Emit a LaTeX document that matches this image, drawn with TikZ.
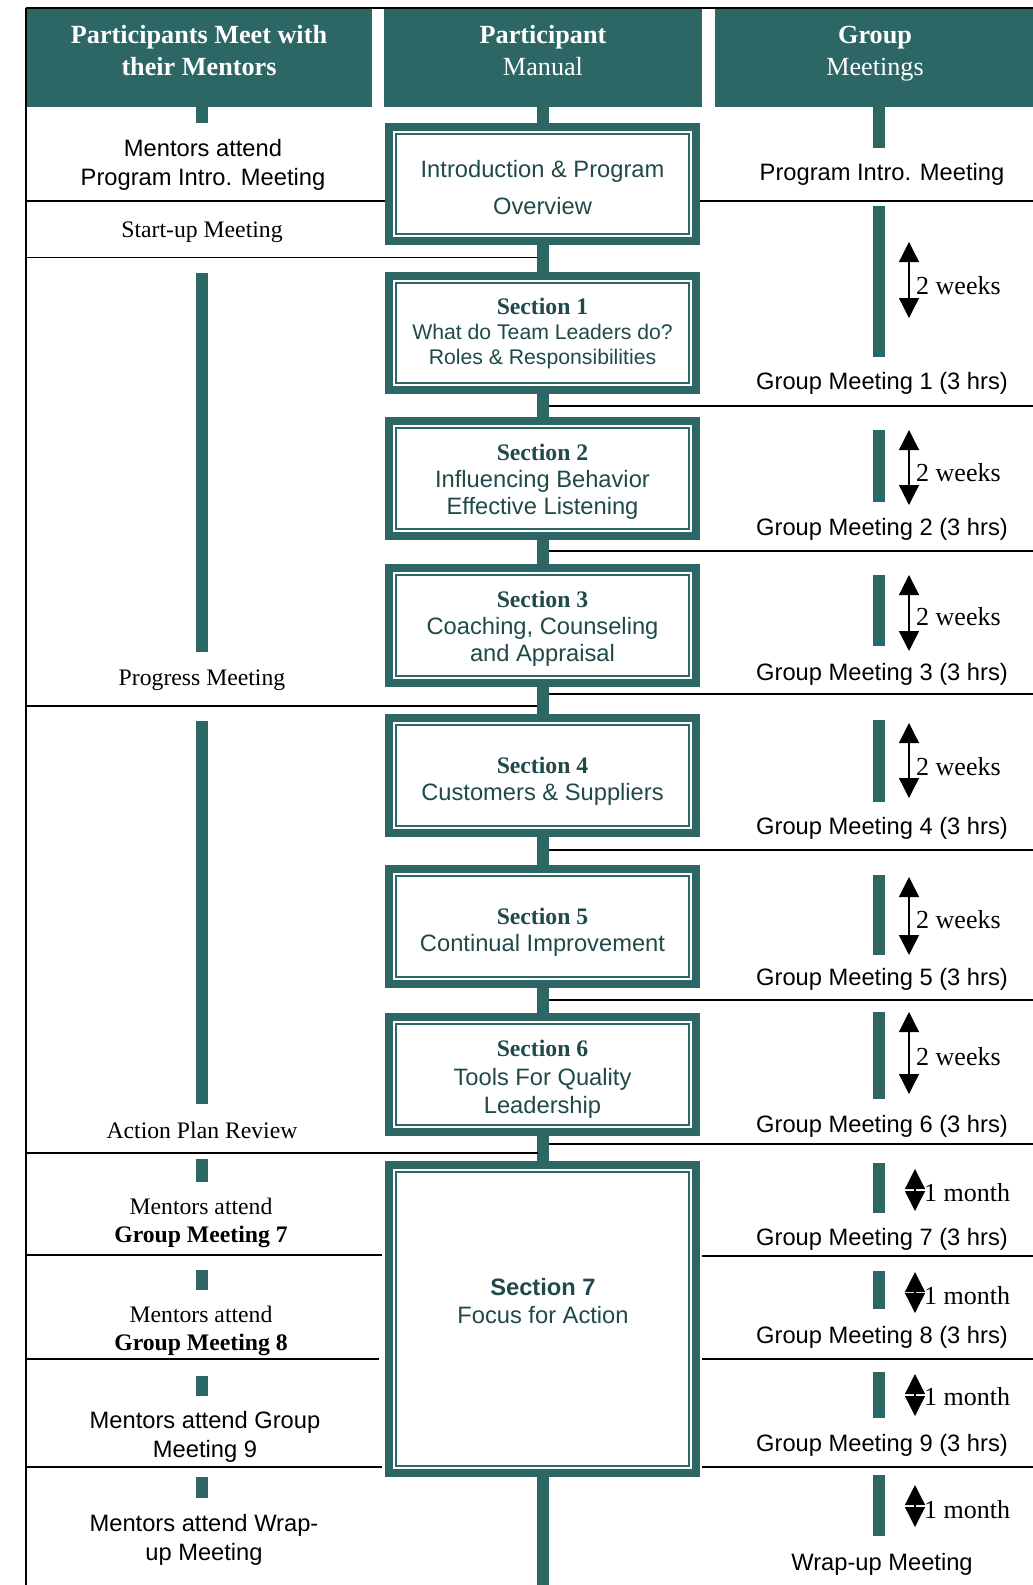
\documentclass[tikz,border=0pt]{standalone}
\usepackage{fontspec}
\setmainfont{Liberation Serif}
\setsansfont{Liberation Sans}
\usetikzlibrary{arrows.meta}
\definecolor{deep}{HTML}{2C6766}
\definecolor{ink}{HTML}{1F4A49}
\newcommand{\secttl}[1]{{\rmfamily\bfseries\fontsize{23.7}{26}\selectfont Section #1}}
\tikzset{
  hdr/.style={fill=deep, minimum height=98pt, inner sep=0pt, outer sep=0pt, anchor=north west},
  hdtxt/.style={text=white, align=center, font=\fontsize{26.2}{32}\selectfont},
  secbox/.style={draw=deep, line width=8pt, fill=white, minimum width=307pt, minimum height=115pt,
    inner sep=0pt, outer sep=0pt},
  boxtxt/.style={align=center, text=ink, font=\sffamily\fontsize{23.7}{27}\selectfont},
  inframe/.style={draw=deep, line width=1.6pt},
  spine/.style={draw=deep, line width=12pt},
  bar/.style={draw=deep, line width=11.5pt},
  rule/.style={draw=black, line width=1.6pt},
  gap/.style={draw=black, line width=1.3pt, {Triangle[width=20pt,length=20pt]}-{Triangle[width=20pt,length=20pt]}},
  lab/.style={font=\sffamily\fontsize{23.7}{29}\selectfont, align=center},
  labr/.style={font=\fontsize{23.7}{28}\selectfont, align=center},
  wk/.style={font=\fontsize{26}{28}\selectfont, anchor=west, inner sep=0pt},
}
\begin{document}
\begin{tikzpicture}[x=1pt,y=-1pt]
  \useasboundingbox (0,0) rectangle (1033,1585);

  \node[hdr, minimum width=346pt] (hL) at (26,9) {};
  \node[hdr, minimum width=318pt] (hM) at (384,9) {};
  \node[hdr, minimum width=318pt] (hR) at (715,9) {};
  \node[hdtxt] (hLt) at (199,51) {\textbf{Participants Meet with}\\\textbf{their Mentors}};
  \node[hdtxt] (hMt) at (543,51) {\textbf{Participant}\\Manual};
  \node[hdtxt] (hRt) at (875,53.5) {\textbf{Group}\\Meetings};
  \draw[rule, line width=2pt] (26,7.5) -- (1033,7.5);
  \draw[rule, line width=2pt] (26,7.5) -- (26,1585);

  \coordinate (end) at (543,1585);
  \draw[spine] (hM.south) -- (end);

  \node[secbox, minimum height=114pt] (intro) at (542.5,184) {};
  \node[secbox, minimum height=114pt] (s1) at (542.5,333) {};
  \node[secbox] (s2) at (542.5,478.5) {};
  \node[secbox] (s3) at (542.5,625.5) {};
  \node[secbox] (s4) at (542.5,775.5) {};
  \node[secbox] (s5) at (542.5,926.5) {};
  \node[secbox] (s6) at (542.5,1074.5) {};
  \node[secbox, minimum height=308pt] (s7) at (542.5,1319) {};
  \foreach \b in {intro,s1,s2,s3,s4,s5,s6,s7}
    \draw[inframe] ([xshift=7pt,yshift=-7pt]\b.north west) rectangle ([xshift=-7pt,yshift=7pt]\b.south east);

  \node[boxtxt] (introt) at ([yshift=-4pt]intro) {Introduction \& Program\\[10pt]Overview};
  \node[boxtxt, font=\sffamily\fontsize{21.2}{25}\selectfont] (s1t) at (s1)
    {\secttl{1}\\What do Team Leaders do?\\Roles \& Responsibilities};
  \node[boxtxt] (s2t) at ([yshift=-3pt]s2) {\secttl{2}\\Influencing Behavior\\Effective Listening};
  \node[boxtxt] (s3t) at ([yshift=-3.5pt]s3) {\secttl{3}\\Coaching, Counseling\\and Appraisal};
  \node[boxtxt] (s4t) at ([yshift=-6pt]s4) {\secttl{4}\\Customers \& Suppliers};
  \node[boxtxt] (s5t) at ([yshift=-6pt]s5) {\secttl{5}\\Continual Improvement};
  \node[boxtxt, font=\sffamily\fontsize{23.7}{28.5}\selectfont] (s6t) at ([yshift=-5pt]s6)
    {\secttl{6}\\Tools For Quality\\Leadership};
  \node[boxtxt, font=\sffamily\fontsize{23.7}{28}\selectfont] (s7t) at (543,1301)
    {\textbf{Section 7}\\Focus for Action};

  \draw[bar] (202,107) -- (202,123);
  \node[lab] (mIntro) at (203,165) {Mentors attend\\Program Intro. Meeting};
  \node[labr] (mStart) at (202,232) {Start-up Meeting};
  \draw[bar] (202,273) -- (202,652);
  \node[labr] (mProg) at (202,680) {Progress Meeting};
  \draw[bar] (202,721) -- (202,1104);
  \node[labr] (mPlan) at (202,1130) {Action Plan Review};
  \draw[bar] (202,1159) -- (202,1182);
  \node[labr] (m7) at (201,1222.5) {Mentors attend\\\textbf{Group Meeting 7}};
  \draw[bar] (202,1270) -- (202,1290);
  \node[labr] (m8) at (201,1330.5) {Mentors attend\\\textbf{Group Meeting 8}};
  \draw[bar] (202,1376) -- (202,1396);
  \node[lab] (m9) at (205,1436.5) {Mentors attend Group\\Meeting 9};
  \draw[bar] (202,1477) -- (202,1498);
  \node[lab] (mWrap) at (204,1539.5) {Mentors attend Wrap-\\up Meeting};
  \foreach \y/\x in {201/385, 257.5/537, 706/537, 1153/538, 1255/382, 1359/379, 1467/382}
    \draw[rule] (26,\y) -- (\x,\y);

  \draw[bar] (879,107) -- (879,148);
  \foreach \bt/\bb/\at/\ab/\ly [count=\k] in {206/357/242/318/286, 430/502/430/505/473,
      575/646/575/651/617, 720/802/723/798/767, 875/955/877/955/920, 1012/1099/1012/1094/1057}
  {
    \draw[bar] (879,\bt) -- (879,\bb);
    \draw[gap] (909,\at) -- (909,\ab);
    \node[wk] (wk\k) at (916,\ly) {2 weeks};
  }
  \foreach \bt/\bb/\at/\ab/\ly [count=\k] in {1163/1213/1169/1211/1193, 1271/1309/1272/1313/1296,
      1372/1418/1374/1416/1397, 1475/1536/1485/1527/1510}
  {
    \draw[bar] (879,\bt) -- (879,\bb);
    \draw[gap] (915,\at) -- (915,\ab);
    \node[wk] (mo\k) at (924,\ly) {1 month};
  }
  \foreach \y/\t [count=\k] in {174/Program Intro. Meeting, 383/Group Meeting 1 (3 hrs),
      529/Group Meeting 2 (3 hrs), 674/Group Meeting 3 (3 hrs), 828/Group Meeting 4 (3 hrs),
      979/Group Meeting 5 (3 hrs), 1126/Group Meeting 6 (3 hrs), 1239/Group Meeting 7 (3 hrs),
      1337/Group Meeting 8 (3 hrs), 1445/Group Meeting 9 (3 hrs), 1564/Wrap-up Meeting}
    \node[lab] (gm\k) at (882,\y) {\t};
  \foreach \y/\x in {201/700, 406/549, 551/549, 694/549, 850/549, 1000/549, 1144/549,
      1256/702, 1359/702, 1467/702}
    \draw[rule] (\x,\y) -- (1033,\y);
\end{tikzpicture}
\end{document}
